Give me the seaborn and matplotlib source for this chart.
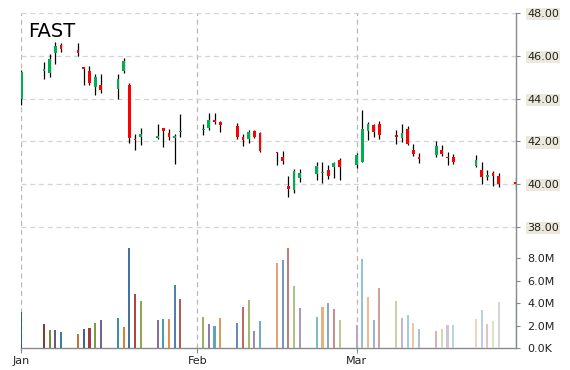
import matplotlib
matplotlib.use("Agg")
import matplotlib.pyplot as plt
import matplotlib.dates as mdates
import matplotlib.colors as mcolors
import numpy as np
import pandas as pd
import seaborn as sns

# ---- data ----
ticker = "FAST"

dates = ["2015-01-01", "2015-01-05", "2015-01-06", "2015-01-07", "2015-01-08",
         "2015-01-11", "2015-01-12", "2015-01-13", "2015-01-14", "2015-01-15",
         "2015-01-18", "2015-01-19", "2015-01-20", "2015-01-21", "2015-01-22",
         "2015-01-25", "2015-01-26", "2015-01-27", "2015-01-28", "2015-01-29",
         "2015-02-02", "2015-02-03", "2015-02-04", "2015-02-05",
         "2015-02-08", "2015-02-09", "2015-02-10", "2015-02-11", "2015-02-12",
         "2015-02-15", "2015-02-16", "2015-02-17", "2015-02-18", "2015-02-19",
         "2015-02-22", "2015-02-23", "2015-02-24", "2015-02-25", "2015-02-26",
         "2015-03-01", "2015-03-02", "2015-03-03", "2015-03-04", "2015-03-05",
         "2015-03-08", "2015-03-09", "2015-03-10", "2015-03-11", "2015-03-12",
         "2015-03-15", "2015-03-16", "2015-03-17", "2015-03-18",
         "2015-03-22", "2015-03-23", "2015-03-24", "2015-03-25", "2015-03-26",
         "2015-03-29"]

opens = [44.00, 45.30, 45.20, 46.14, 46.50, 46.27, 45.48, 45.28, 44.55, 44.63,
         44.44, 45.30, 44.63, 42.10, 42.19, 42.16, 42.61, 42.38, 42.16, 42.44,
         42.52, 42.61, 42.99, 42.91, 42.72, 42.21, 42.11, 42.49, 42.39,
         41.50, 41.26, 39.93, 39.71, 40.29, 40.46, 40.52, 40.68, 40.80, 41.15,
         40.88, 41.04, 42.47, 42.75, 42.80, 42.32, 42.16, 42.57, 41.62, 41.26,
         41.35, 41.62, 41.27, 41.27, 40.87, 40.65, 40.33, 40.51, 40.37, 40.10]

highs = [45.33, 45.69, 46.08, 46.66, 46.58, 46.61, 45.48, 45.52, 45.13, 45.13,
         45.13, 45.88, 44.71, 42.37, 42.65, 42.80, 42.61, 42.60, 42.33, 43.30,
         42.83, 43.33, 43.33, 42.94, 42.88, 42.33, 42.52, 42.55, 42.46,
         41.50, 41.54, 40.37, 40.73, 40.73, 41.04, 41.04, 40.88, 41.04, 41.22,
         41.46, 43.49, 42.91, 42.83, 42.94, 42.55, 42.83, 42.71, 41.90, 41.48,
         42.00, 41.82, 41.50, 41.40, 41.35, 41.05, 40.68, 40.61, 40.52, 40.33]

lows = [43.70, 44.94, 45.02, 45.60, 46.19, 45.99, 44.63, 44.63, 44.19, 44.27,
        43.96, 45.20, 41.95, 41.62, 41.85, 42.10, 41.74, 42.08, 40.96, 42.21,
        42.30, 42.52, 42.83, 42.43, 42.10, 41.78, 41.93, 42.15, 41.50,
        40.88, 40.96, 39.40, 39.58, 40.10, 40.22, 40.05, 40.26, 40.29, 40.18,
        40.75, 41.04, 42.05, 42.21, 42.10, 41.88, 41.97, 41.83, 41.32, 40.99,
        41.27, 41.30, 40.91, 40.96, 40.80, 40.02, 40.18, 39.94, 39.86, 39.74]

closes = [45.25, 45.37, 45.85, 46.45, 46.31, 46.11, 45.39, 44.71, 45.02, 44.39,
          44.94, 45.77, 42.15, 42.06, 42.35, 42.24, 42.47, 42.19, 42.25, 42.49,
          42.57, 43.02, 42.93, 42.77, 42.21, 42.05, 42.43, 42.21, 41.54,
          41.44, 41.07, 39.80, 40.60, 40.51, 40.83, 40.57, 40.37, 40.99, 40.80,
          41.35, 42.57, 42.83, 42.44, 42.29, 42.22, 42.39, 41.86, 41.43, 41.16,
          41.78, 41.40, 41.21, 41.02, 41.11, 40.32, 40.41, 40.38, 40.02, 40.00]

# volume in millions
volumes = [3.23, 2.13, 1.60, 1.60, 1.42, 1.24, 1.69, 1.78, 2.22, 2.49,
           2.67, 1.87, 8.89, 4.80, 4.18, 2.49, 2.58, 2.58, 5.60, 4.36,
           2.76, 2.13, 1.96, 2.67, 2.22, 3.64, 4.27, 1.51, 2.43,
           7.56, 7.82, 8.89, 5.51, 3.56, 2.76, 3.64, 4.00, 3.47, 2.49,
           2.04, 7.91, 4.53, 2.49, 5.33, 4.18, 2.67, 2.93, 2.22, 1.69,
           1.51, 1.69, 2.04, 2.04, 2.58, 3.38, 2.13, 2.40, 4.09, 4.44]

price_ticks = [38, 40, 42, 44, 46, 48]
price_labels = ["38.00", "40.00", "42.00", "44.00", "46.00", "48.00"]
vol_ticks = [0, 2, 4, 6, 8]
vol_labels = ["0.0K", "2.0M", "4.0M", "6.0M", "8.0M"]
month_ticks = ["2015-01-01", "2015-02-01", "2015-03-01"]
month_labels = ["Jan", "Feb", "Mar"]

base_palette = ["#4572A7", "#AA4643", "#89A54E", "#80699B", "#3D96AE", "#DB843D"]

# ---- build frame ----
df = pd.DataFrame({"date": pd.to_datetime(dates), "open": opens, "high": highs,
                   "low": lows, "close": closes, "volume": volumes})
df["x"] = mdates.date2num(df["date"])
df["key"] = [str(i) for i in range(len(df))]

# volume colours: palette cycle, going from darker to much lighter
shade = np.linspace(-0.2, 0.72, len(df))
vol_colors = []
for i, t in enumerate(shade):
    c = np.array(mcolors.to_rgb(base_palette[i % len(base_palette)]))
    if t < 0:
        c = c * (1 + t)
    else:
        c = c + (1 - c) * t
    vol_colors.append(tuple(c))

sns.set_theme(style="white")
plt.rcParams["font.family"] = ["DejaVu Sans"]

fig = plt.figure(figsize=(5.7, 3.7), dpi=100)
ax = fig.add_axes([21.3 / 570, 1 - 348 / 370, (515.7 - 21.3) / 570, 335 / 370])
ax2 = ax.twinx()

# volume bars
sns.barplot(data=df, x="x", y="volume", hue="key", palette=vol_colors,
            native_scale=True, width=0.36, errorbar=None, legend=False,
            saturation=1, linewidth=0, ax=ax2)

# candles
up = df["close"] >= df["open"]
body_col = np.where(up, "#00b050", "#ff0000")
ax.vlines(df["x"], df["low"], df["high"], color="black", linewidth=0.9, zorder=2)
body_h = np.maximum((df["close"] - df["open"]).abs(), 0.05)
body_b = np.minimum(df["open"], df["close"])
ax.bar(df["x"], body_h, bottom=body_b, width=0.48, color=body_col,
       linewidth=0, zorder=3)

# axes limits
x0 = mdates.date2num(pd.Timestamp("2015-01-01"))
x1 = mdates.date2num(pd.Timestamp("2015-03-29"))
ax.set_xlim(x0, x1)
ax.set_ylim(32.35, 48)
ax2.set_ylim(0, 29.78)

# ticks
tick_col = "#222222"
ax.set_xticks(mdates.date2num(pd.to_datetime(month_ticks)))
ax.set_xticklabels(month_labels)
ax.yaxis.tick_right()
ax.set_yticks(price_ticks)
ax.set_yticklabels(price_labels)
ax.tick_params(axis="y", which="both", right=True, left=False, labelright=True,
               labelleft=False, direction="out", length=3, width=0.8,
               color="#888888", pad=5.5, labelsize=8, labelcolor=tick_col)
ax.tick_params(axis="x", bottom=True, direction="out", length=3.5, width=0.8,
               color="#888888", pad=2, labelsize=8, labelcolor=tick_col)
for lbl in ax.get_yticklabels():
    lbl.set_bbox(dict(facecolor="#ece9dc", edgecolor="none", pad=0.8))

ax2.set_yticks(vol_ticks)
ax2.set_yticklabels(vol_labels)
ax2.tick_params(axis="y", right=True, direction="out", length=3, width=0.8,
                color="#888888", pad=5.5, labelsize=8, labelcolor=tick_col)
ax2.tick_params(axis="x", bottom=False, labelbottom=False)
ax2.set_xlabel("")
ax2.set_ylabel("")
ax.set_xlabel("")
ax.set_ylabel("")

# grid
ax.set_axisbelow(True)
ax.yaxis.grid(True, color="#d4d4d4", linestyle=(0, (4, 3)), linewidth=0.9)
ax.xaxis.grid(True, color="#b8b8b8", linestyle=(0, (4, 3)), linewidth=0.9)

# spines
for s in ["top", "left"]:
    ax.spines[s].set_visible(False)
for s in ax2.spines.values():
    s.set_visible(False)
ax.spines["right"].set_color("#8a8a8a")
ax.spines["right"].set_linewidth(1.0)
ax.spines["bottom"].set_color("#8a8a8a")
ax.spines["bottom"].set_linewidth(1.0)

fig.text(28.5 / 570, 1 - 36.7 / 370, ticker, fontsize=14, color="black",
         ha="left", va="baseline")

fig.savefig("out.png", dpi=100)
